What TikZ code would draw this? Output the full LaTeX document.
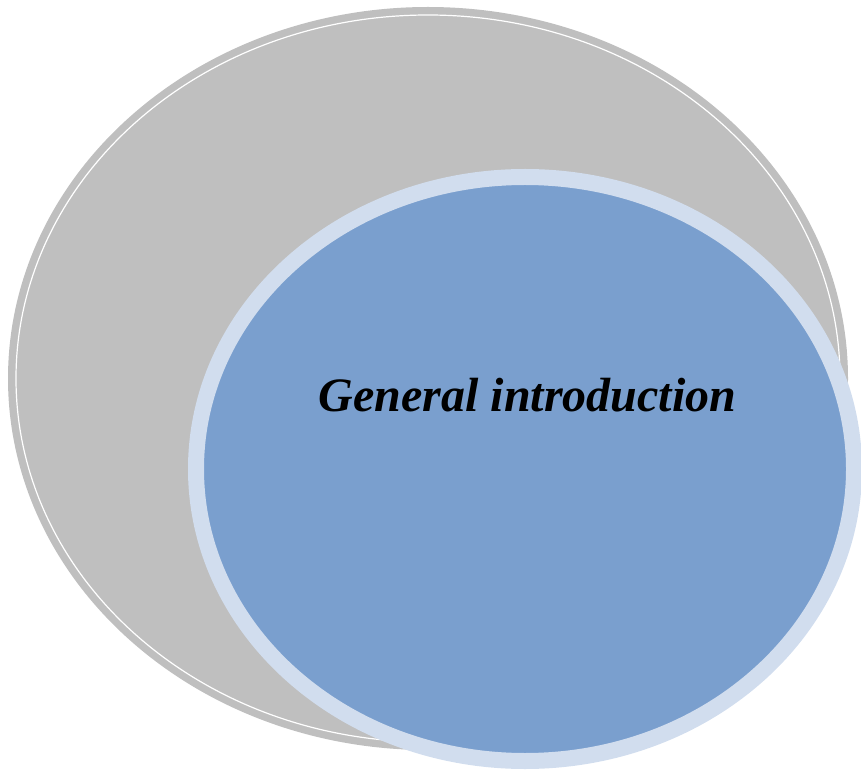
\documentclass[tikz,border=0pt]{standalone}
\usepackage{fontspec}
\setmainfont{Liberation Serif}
\usetikzlibrary{shapes.geometric}

\definecolor{ovalgray}{HTML}{BFBFBF}
\definecolor{ringblue}{HTML}{D1DDEE}
\definecolor{fillblue}{HTML}{7A9FCE}

\begin{document}
\begin{tikzpicture}[x=1pt, y=1pt]
        \tikzstyle{every node}=[ellipse, inner sep=0pt, outer sep=0pt]
        \useasboundingbox (0,0) rectangle (861,769);

        \node (back)  [fill=ovalgray, minimum width=840pt, minimum height=743pt] at (428,390.5) {};
        \node (rim)   [draw=white, line width=1.2pt, minimum width=824pt, minimum height=727pt] at (428,390.5) {};
        \node (front) [fill=fillblue, draw=ringblue, line width=16pt,
                       minimum width=658pt, minimum height=584pt] at (525,300) {};

        \node (title) [anchor=base, font=\fontsize{48}{56}\selectfont\bfseries\itshape]
              at (527.5,358) {General introduction};
    \end{tikzpicture}
\end{document}
